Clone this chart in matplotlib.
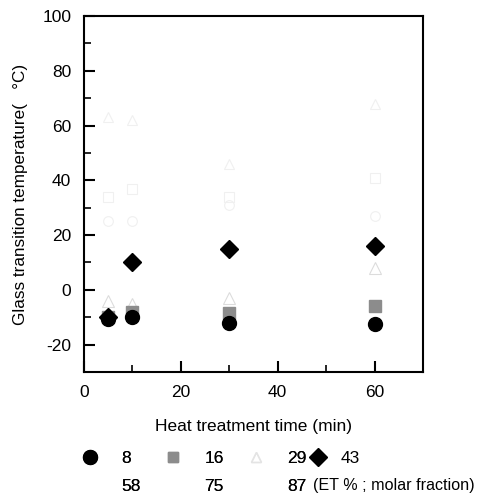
import numpy as np
import matplotlib.pyplot as plt
from matplotlib.lines import Line2D
from matplotlib.ticker import MultipleLocator

plt.rcParams['font.family'] = ['Liberation Sans', 'DejaVu Sans']
plt.rcParams['axes.unicode_minus'] = False

# heat treatment time (min)
times = [5, 10, 30, 60]

# glass transition temperature (deg C) per ET molar fraction
tg_8 = [-10.5, -10, -12, -12.5]
tg_16 = [-10, -8, -8.5, -6]
tg_29 = [-4, -5, -3, 8]
tg_43 = [-10, 10, 15, 16]
tg_58 = [25, 25, 31, 27]
tg_75 = [34, 37, 34, 41]
tg_87 = [63, 62, 46, 68]

fig = plt.figure(figsize=(4.79, 4.93), dpi=100)
ax = fig.add_axes([0.175, 0.2454, 0.708, 0.722])

faint = '#f0f0f0'
series = [
    (tg_87, dict(marker='^', color=faint, mfc='none', ms=7, mew=0.8)),
    (tg_75, dict(marker='s', color=faint, mfc='none', ms=7, mew=0.8)),
    (tg_58, dict(marker='o', color=faint, mfc='none', ms=7, mew=0.8)),
    (tg_29, dict(marker='^', color='#dcdcdc', mfc='none', ms=8, mew=0.8)),
    (tg_16, dict(marker='s', color='#8c8c8c', ms=8)),
    (tg_8, dict(marker='o', color='black', ms=10)),
    (tg_43, dict(marker='D', color='black', ms=9)),
]
for vals, kw in series:
    ax.plot(times, vals, ls='none', **kw)

ax.set_xlim(0, 70)
ax.set_ylim(-30, 100)
ax.xaxis.set_minor_locator(MultipleLocator(10))
ax.yaxis.set_major_locator(MultipleLocator(20))
ax.yaxis.set_minor_locator(MultipleLocator(10))
ax.set_xticks([0, 20, 40, 60])
ax.tick_params(which='major', direction='in', length=8, width=1.5, labelsize=12.5, pad=9)
ax.tick_params(which='minor', direction='in', length=5, width=1.2)
for s in ax.spines.values():
    s.set_linewidth(1.5)

ax.set_xlabel('Heat treatment time (min)', fontsize=12.5, labelpad=14)
ax.set_ylabel('Glass transition temperature(   \u00b0C)', fontsize=12.3, labelpad=10)

# legend, first three columns
handles = [
    Line2D([], [], ls='none', marker='o', color='black', ms=10),
    Line2D([], [], ls='none', marker='o', color='white', ms=7),
    Line2D([], [], ls='none', marker='s', color='#8c8c8c', ms=7),
    Line2D([], [], ls='none', marker='s', color='white', ms=7),
    Line2D([], [], ls='none', marker='^', color='#e4e4e4', mfc='none', ms=7),
    Line2D([], [], ls='none', marker='^', color='white', ms=7),
]
labels = ['8', '58', '16', '75', '29', '87']
leg = fig.legend(handles, labels, ncol=3, loc='upper left', bbox_to_anchor=(0.1706, 0.085),
                 frameon=False, fontsize=12.5, handlelength=1.0, handletextpad=1.3,
                 columnspacing=1.35, labelspacing=0.7, borderpad=0, borderaxespad=0)
fig.add_artist(leg)
fig.legend([Line2D([], [], ls='none', marker='D', color='black', ms=9)], ['43'],
           loc='upper left', bbox_to_anchor=(0.6466, 0.085), frameon=False,
           fontsize=12.5, handlelength=1.0, handletextpad=0.8, borderpad=0, borderaxespad=0)
fig.text(0.99, 0.016, '(ET % ; molar fraction)', fontsize=11.6, va='center', ha='right')

fig.savefig('out.png', dpi=100)
